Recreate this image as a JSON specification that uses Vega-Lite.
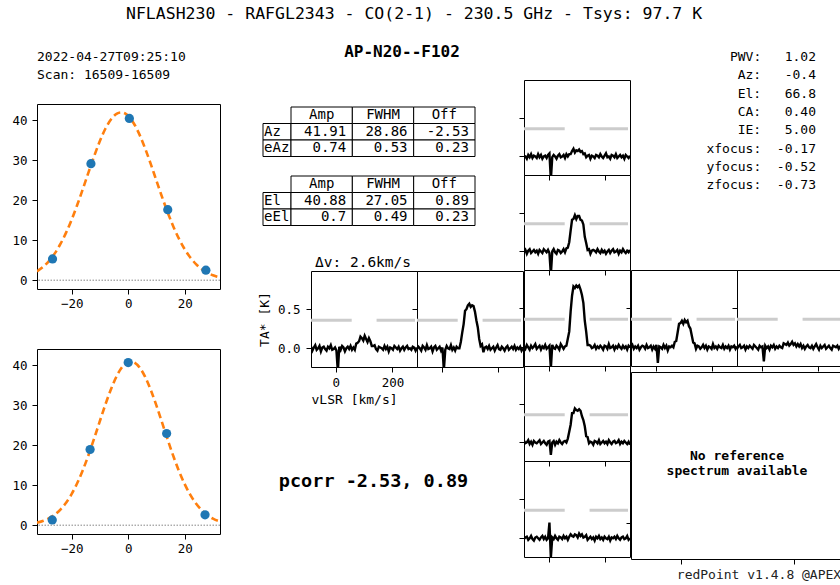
{
"$schema":"https://vega.github.io/schema/vega-lite/v6.json",
"padding":{"left":11,"top":6,"right":0,"bottom":0},
"title":{"text":"NFLASH230 - RAFGL2343 - CO(2-1) - 230.5 GHz - Tsys: 97.7 K","anchor":"start","frame":"group","dx":89,"offset":1.5,"baseline":"bottom","fontSize":16.5,"font":"DejaVu Sans Mono","fontWeight":"normal","color":"#000000"},
"datasets":{
"spec":[
{"v":-88,"azm2":0.02,"azm1":-0.01,"c0":0.01,"azp1":0,"azp2":-0.02,"elp2":0.01,"elp1":-0.01,"elm1":0.02,"elm2":-0.01},
{"v":-83,"azm2":-0.03,"azm1":0.02,"c0":-0.02,"azp1":0.03,"azp2":0.01,"elp2":0,"elp1":0.02,"elm1":-0.01,"elm2":0.01},
{"v":-78,"azm2":0.01,"azm1":0,"c0":0.03,"azp1":-0.02,"azp2":0.03,"elp2":-0.03,"elp1":-0.03,"elm1":0,"elm2":0.02},
{"v":-73,"azm2":0.04,"azm1":-0.03,"c0":0,"azp1":0.01,"azp2":-0.01,"elp2":0.02,"elp1":0.01,"elm1":0.03,"elm2":-0.02},
{"v":-68,"azm2":-0.02,"azm1":0.03,"c0":-0.03,"azp1":-0.01,"azp2":0,"elp2":-0.01,"elp1":0.03,"elm1":-0.02,"elm2":0},
{"v":-63,"azm2":0,"azm1":0.01,"c0":0.02,"azp1":0.02,"azp2":0.02,"elp2":0.03,"elp1":-0.02,"elm1":0.01,"elm2":0.03},
{"v":-58,"azm2":0.03,"azm1":-0.02,"c0":-0.01,"azp1":-0.03,"azp2":-0.03,"elp2":-0.02,"elp1":0,"elm1":-0.03,"elm2":-0.01},
{"v":-53,"azm2":-0.04,"azm1":0.04,"c0":0.01,"azp1":0,"azp2":0.01,"elp2":0.01,"elp1":0.02,"elm1":0.02,"elm2":-0.03},
{"v":-48,"azm2":0.01,"azm1":-0.01,"c0":0.04,"azp1":0.02,"azp2":-0.01,"elp2":0,"elp1":-0.01,"elm1":0,"elm2":0.01},
{"v":-43,"azm2":0.02,"azm1":0,"c0":-0.02,"azp1":0.01,"azp2":0.02,"elp2":-0.02,"elp1":0.01,"elm1":-0.01,"elm2":0.02},
{"v":-38,"azm2":-0.01,"azm1":0.02,"c0":0,"azp1":-0.02,"azp2":0,"elp2":0.03,"elp1":-0.03,"elm1":0.01,"elm2":0},
{"v":-33,"azm2":-0.03,"azm1":-0.04,"c0":0.02,"azp1":0.03,"azp2":-0.02,"elp2":-0.01,"elp1":0.02,"elm1":0.03,"elm2":-0.02},
{"v":-28,"azm2":0.02,"azm1":0.01,"c0":-0.03,"azp1":-0.01,"azp2":0.03,"elp2":0.02,"elp1":0,"elm1":-0.02,"elm2":0.01},
{"v":-23,"azm2":0,"azm1":0.03,"c0":0.01,"azp1":0,"azp2":0.01,"elp2":-0.03,"elp1":-0.02,"elm1":0,"elm2":0.03},
{"v":-18,"azm2":0.04,"azm1":-0.02,"c0":-0.01,"azp1":0.02,"azp2":-0.01,"elp2":0,"elp1":0.03,"elm1":0.02,"elm2":-0.01},
{"v":-13,"azm2":-0.02,"azm1":0,"c0":0.03,"azp1":-0.03,"azp2":-0.03,"elp2":0.01,"elp1":0.01,"elm1":-0.01,"elm2":0.02},
{"v":-8,"azm2":-0.01,"azm1":0.02,"c0":-0.02,"azp1":0.01,"azp2":0.02,"elp2":-0.02,"elp1":-0.01,"elm1":-0.03,"elm2":-0.02},
{"v":-3,"azm2":0.01,"azm1":-0.03,"c0":0,"azp1":-0.02,"azp2":0,"elp2":0.02,"elp1":0.02,"elm1":0.01,"elm2":0},
{"v":2,"azm2":-0.03,"azm1":0.01,"c0":0.02,"azp1":0.03,"azp2":0.01,"elp2":0.04,"elp1":-0.02,"elm1":0.02,"elm2":0.2},
{"v":7,"azm2":-0.3,"azm1":-0.28,"c0":-0.27,"azp1":-0.2,"azp2":-0.18,"elp2":-0.3,"elp1":-0.3,"elm1":-0.16,"elm2":-0.25},
{"v":12,"azm2":0.02,"azm1":-0.02,"c0":0.03,"azp1":0.01,"azp2":0.02,"elp2":-0.01,"elp1":0,"elm1":0,"elm2":0.01},
{"v":17,"azm2":-0.02,"azm1":0.03,"c0":-0.01,"azp1":0,"azp2":-0.01,"elp2":0.02,"elp1":0.03,"elm1":0.02,"elm2":-0.01},
{"v":22,"azm2":0.03,"azm1":0,"c0":-0.02,"azp1":-0.02,"azp2":0.01,"elp2":0,"elp1":-0.01,"elm1":-0.03,"elm2":0.03},
{"v":27,"azm2":0.01,"azm1":-0.01,"c0":0.02,"azp1":0.03,"azp2":-0.03,"elp2":-0.03,"elp1":-0.03,"elm1":0.01,"elm2":0},
{"v":32,"azm2":-0.04,"azm1":0.04,"c0":0,"azp1":-0.01,"azp2":0.02,"elp2":0.01,"elp1":0.02,"elm1":-0.01,"elm2":-0.02},
{"v":37,"azm2":0,"azm1":-0.02,"c0":-0.03,"azp1":0.02,"azp2":0,"elp2":0.03,"elp1":0.01,"elm1":0.03,"elm2":0.02},
{"v":42,"azm2":0.02,"azm1":0.01,"c0":0.04,"azp1":-0.04,"azp2":0.03,"elp2":-0.01,"elp1":-0.02,"elm1":0,"elm2":0.01},
{"v":47,"azm2":-0.01,"azm1":-0.03,"c0":0.01,"azp1":0.01,"azp2":-0.02,"elp2":0,"elp1":0,"elm1":-0.02,"elm2":-0.01},
{"v":52,"azm2":0.03,"azm1":0.02,"c0":-0.02,"azp1":0,"azp2":0.01,"elp2":0.02,"elp1":0.03,"elm1":0.01,"elm2":0.03},
{"v":57,"azm2":-0.02,"azm1":0,"c0":0.01,"azp1":0.02,"azp2":-0.01,"elp2":-0.02,"elp1":-0.01,"elm1":0.02,"elm2":0},
{"v":62,"azm2":0.01,"azm1":0,"c0":0.02,"azp1":0,"azp2":0.02,"elp2":0.03,"elp1":0.04,"elm1":0,"elm2":0.02},
{"v":67,"azm2":-0.02,"azm1":0.08,"c0":0.11,"azp1":0.07,"azp2":0,"elp2":0,"elp1":0.05,"elm1":0.05,"elm2":-0.02},
{"v":72,"azm2":0.06,"azm1":0.2,"c0":0.2,"azp1":0.08,"azp2":-0.01,"elp2":0.03,"elp1":0.12,"elm1":0.14,"elm2":0.02},
{"v":77,"azm2":0.07,"azm1":0.31,"c0":0.46,"azp1":0.19,"azp2":0.05,"elp2":0.03,"elp1":0.27,"elm1":0.23,"elm2":0.05},
{"v":82,"azm2":0.09,"azm1":0.48,"c0":0.66,"azp1":0.3,"azp2":0.04,"elp2":0.07,"elp1":0.41,"elm1":0.38,"elm2":0.03},
{"v":87,"azm2":0.15,"azm1":0.5,"c0":0.78,"azp1":0.31,"azp2":0.03,"elp2":0.1,"elp1":0.42,"elm1":0.38,"elm2":0.02},
{"v":92,"azm2":0.13,"azm1":0.55,"c0":0.76,"azp1":0.34,"azp2":0.06,"elp2":0.05,"elp1":0.47,"elm1":0.44,"elm2":0.05},
{"v":97,"azm2":0.1,"azm1":0.57,"c0":0.79,"azp1":0.3,"azp2":0.02,"elp2":0.08,"elp1":0.42,"elm1":0.42,"elm2":0.04},
{"v":102,"azm2":0.16,"azm1":0.53,"c0":0.77,"azp1":0.35,"azp2":0.04,"elp2":0.07,"elp1":0.46,"elm1":0.41,"elm2":0.01},
{"v":107,"azm2":0.12,"azm1":0.55,"c0":0.79,"azp1":0.32,"azp2":0.07,"elp2":0.09,"elp1":0.46,"elm1":0.43,"elm2":0.06},
{"v":112,"azm2":0.08,"azm1":0.54,"c0":0.74,"azp1":0.34,"azp2":0.03,"elp2":0.06,"elp1":0.41,"elm1":0.41,"elm2":0.03},
{"v":117,"azm2":0.13,"azm1":0.47,"c0":0.67,"azp1":0.27,"azp2":0.05,"elp2":0.07,"elp1":0.4,"elm1":0.34,"elm2":0.05},
{"v":122,"azm2":0.09,"azm1":0.36,"c0":0.57,"azp1":0.24,"azp2":0.01,"elp2":0.03,"elp1":0.35,"elm1":0.29,"elm2":0.01},
{"v":127,"azm2":0.03,"azm1":0.27,"c0":0.34,"azp1":0.15,"azp2":0.04,"elp2":0.04,"elp1":0.19,"elm1":0.21,"elm2":0.02},
{"v":132,"azm2":0.03,"azm1":0.12,"c0":0.2,"azp1":0.06,"azp2":0.01,"elp2":-0.01,"elp1":0.11,"elm1":0.08,"elm2":0.04},
{"v":137,"azm2":0.04,"azm1":0.03,"c0":0.03,"azp1":0.05,"azp2":0.04,"elp2":0.01,"elp1":0.02,"elm1":0.07,"elm2":-0.02},
{"v":142,"azm2":-0.01,"azm1":0.05,"c0":0.03,"azp1":-0.02,"azp2":-0.01,"elp2":0.02,"elp1":0.03,"elm1":-0.01,"elm2":0},
{"v":147,"azm2":-0.03,"azm1":-0.05,"c0":0.02,"azp1":0.02,"azp2":0.02,"elp2":-0.03,"elp1":-0.03,"elm1":0.01,"elm2":0.02},
{"v":152,"azm2":0.02,"azm1":0.01,"c0":-0.01,"azp1":0.01,"azp2":-0.02,"elp2":0.01,"elp1":0.01,"elm1":0,"elm2":-0.01},
{"v":157,"azm2":0.01,"azm1":0.02,"c0":0,"azp1":-0.02,"azp2":0.01,"elp2":0,"elp1":0.02,"elm1":-0.03,"elm2":0.01},
{"v":162,"azm2":0,"azm1":-0.01,"c0":0.03,"azp1":0,"azp2":0.03,"elp2":-0.02,"elp1":0.01,"elm1":0.02,"elm2":-0.03},
{"v":167,"azm2":-0.02,"azm1":0.03,"c0":-0.02,"azp1":0.03,"azp2":0,"elp2":0.02,"elp1":-0.01,"elm1":0.01,"elm2":0.02},
{"v":172,"azm2":0.03,"azm1":-0.02,"c0":0.01,"azp1":-0.01,"azp2":-0.01,"elp2":0.01,"elp1":0.03,"elm1":-0.01,"elm2":0},
{"v":177,"azm2":-0.01,"azm1":0,"c0":-0.01,"azp1":0.02,"azp2":0.02,"elp2":-0.01,"elp1":0,"elm1":0.03,"elm2":0.03},
{"v":182,"azm2":0.02,"azm1":0.02,"c0":0.02,"azp1":-0.03,"azp2":-0.02,"elp2":0.03,"elp1":-0.02,"elm1":-0.02,"elm2":-0.01},
{"v":187,"azm2":-0.04,"azm1":-0.03,"c0":0,"azp1":0.01,"azp2":0.01,"elp2":0,"elp1":0.02,"elm1":0,"elm2":0.01},
{"v":192,"azm2":0.01,"azm1":0.01,"c0":-0.03,"azp1":0,"azp2":0.04,"elp2":-0.02,"elp1":-0.01,"elm1":0.02,"elm2":-0.02},
{"v":197,"azm2":0,"azm1":0.04,"c0":0.02,"azp1":-0.02,"azp2":0,"elp2":0.01,"elp1":0.01,"elm1":-0.01,"elm2":0.02},
{"v":202,"azm2":-0.02,"azm1":-0.01,"c0":0.01,"azp1":0.04,"azp2":-0.03,"elp2":0.04,"elp1":-0.03,"elm1":0.01,"elm2":0},
{"v":207,"azm2":0.03,"azm1":-0.02,"c0":-0.02,"azp1":-0.01,"azp2":0.02,"elp2":-0.01,"elp1":0,"elm1":-0.02,"elm2":-0.01},
{"v":212,"azm2":0.01,"azm1":0.02,"c0":0.04,"azp1":0.01,"azp2":-0.01,"elp2":0,"elp1":0.02,"elm1":0.03,"elm2":0.02},
{"v":217,"azm2":-0.01,"azm1":0,"c0":-0.01,"azp1":-0.02,"azp2":0.01,"elp2":-0.03,"elp1":-0.02,"elm1":0,"elm2":-0.03},
{"v":222,"azm2":0.02,"azm1":-0.03,"c0":0,"azp1":0.02,"azp2":0.03,"elp2":0.02,"elp1":0.01,"elm1":-0.02,"elm2":0.01},
{"v":227,"azm2":-0.03,"azm1":0.01,"c0":0.02,"azp1":0,"azp2":-0.02,"elp2":0.01,"elp1":0.03,"elm1":0.01,"elm2":0},
{"v":232,"azm2":0,"azm1":0.03,"c0":-0.03,"azp1":-0.01,"azp2":0,"elp2":-0.01,"elp1":-0.01,"elm1":0.02,"elm2":0.02},
{"v":237,"azm2":0.02,"azm1":-0.02,"c0":0.01,"azp1":0.03,"azp2":0.02,"elp2":0.03,"elp1":0,"elm1":-0.01,"elm2":-0.01},
{"v":242,"azm2":-0.02,"azm1":0,"c0":-0.01,"azp1":-0.02,"azp2":-0.01,"elp2":-0.02,"elp1":0.02,"elm1":0,"elm2":0.03},
{"v":247,"azm2":0.01,"azm1":0.02,"c0":0.03,"azp1":0.01,"azp2":-0.03,"elp2":0,"elp1":-0.03,"elm1":0.03,"elm2":0},
{"v":252,"azm2":0.03,"azm1":-0.01,"c0":0,"azp1":-0.01,"azp2":0.02,"elp2":0.02,"elp1":0.01,"elm1":-0.02,"elm2":-0.02},
{"v":257,"azm2":-0.01,"azm1":0.03,"c0":-0.02,"azp1":0.02,"azp2":0.01,"elp2":-0.01,"elp1":-0.01,"elm1":0.01,"elm2":0.01},
{"v":262,"azm2":0,"azm1":-0.02,"c0":0.02,"azp1":-0.03,"azp2":0,"elp2":0.01,"elp1":0.03,"elm1":-0.01,"elm2":0.02},
{"v":267,"azm2":-0.02,"azm1":0.01,"c0":-0.01,"azp1":0.01,"azp2":0.02,"elp2":-0.03,"elp1":0,"elm1":0.02,"elm2":-0.01},
{"v":272,"azm2":0.02,"azm1":-0.01,"c0":0.01,"azp1":0,"azp2":-0.02,"elp2":0.02,"elp1":-0.02,"elm1":0,"elm2":0},
{"v":277,"azm2":0.01,"azm1":0.02,"c0":-0.03,"azp1":0.02,"azp2":0.01,"elp2":0,"elp1":0.01,"elm1":-0.02,"elm2":0.03},
{"v":282,"azm2":-0.03,"azm1":-0.03,"c0":0.02,"azp1":-0.02,"azp2":0.03,"elp2":-0.02,"elp1":-0.01,"elm1":0.01,"elm2":-0.02},
{"v":287,"azm2":0.01,"azm1":0,"c0":0,"azp1":0.01,"azp2":-0.01,"elp2":0.01,"elp1":0.02,"elm1":-0.03,"elm2":0}
],
"refline":[{"v1":-88,"v2":56,"t":0.36},{"v1":144,"v2":280,"t":0.36}],
"fit_az":[{"off":-32.3,"amp":2.19},{"off":-30,"amp":3.4},{"off":-28,"amp":4.84},{"off":-26,"amp":6.7},{"off":-24,"amp":9.04},{"off":-22,"amp":11.87},{"off":-20,"amp":15.17},{"off":-18,"amp":18.9},{"off":-16,"amp":22.91},{"off":-14,"amp":27.05},{"off":-12,"amp":31.1},{"off":-10,"amp":34.81},{"off":-8,"amp":37.94},{"off":-6,"amp":40.26},{"off":-4,"amp":41.61},{"off":-2.5,"amp":41.91},{"off":-1,"amp":41.58},{"off":0,"amp":41.03},{"off":2,"amp":39.14},{"off":4,"amp":36.36},{"off":6,"amp":32.89},{"off":8,"amp":28.98},{"off":10,"amp":24.85},{"off":12,"amp":20.75},{"off":14,"amp":16.88},{"off":16,"amp":13.36},{"off":18,"amp":10.3},{"off":20,"amp":7.74},{"off":22,"amp":5.66},{"off":24,"amp":4.03},{"off":26,"amp":2.79},{"off":28,"amp":1.88},{"off":30,"amp":1.24},{"off":32,"amp":0.79},{"off":32.5,"amp":0.71}],
"fit_el":[{"off":-32.3,"amp":0.63},{"off":-30,"amp":1.1},{"off":-28,"amp":1.73},{"off":-26,"amp":2.64},{"off":-24,"amp":3.91},{"off":-22,"amp":5.61},{"off":-20,"amp":7.82},{"off":-18,"amp":10.58},{"off":-16,"amp":13.87},{"off":-14,"amp":17.65},{"off":-12,"amp":21.78},{"off":-10,"amp":26.08},{"off":-8,"amp":30.3},{"off":-6,"amp":34.15},{"off":-4,"amp":37.34},{"off":-2,"amp":39.61},{"off":0,"amp":40.76},{"off":1,"amp":40.88},{"off":2,"amp":40.69},{"off":4,"amp":39.41},{"off":6,"amp":37.03},{"off":8,"amp":33.75},{"off":10,"amp":29.85},{"off":12,"amp":25.61},{"off":14,"amp":21.31},{"off":16,"amp":17.21},{"off":18,"amp":13.48},{"off":20,"amp":10.25},{"off":22,"amp":7.55},{"off":24,"amp":5.4},{"off":26,"amp":3.75},{"off":28,"amp":2.52},{"off":30,"amp":1.65},{"off":32,"amp":1.04},{"off":32.5,"amp":0.93}],
"pts_az":[{"off":-26.8,"amp":5.3},{"off":-13.2,"amp":29.1},{"off":0.4,"amp":40.4},{"off":14.0,"amp":17.6},{"off":27.5,"amp":2.5}],
"pts_el":[{"off":-26.9,"amp":1.3},{"off":-13.5,"amp":18.9},{"off":0.0,"amp":40.6},{"off":13.6,"amp":22.9},{"off":27.2,"amp":2.6}],
"tbl_head":[{"row":"hdr","col":"Amp"},{"row":"hdr","col":"FWHM"},{"row":"hdr","col":"Off"}],
"tbl_az":[{"row":"Az","col":"Amp","txt":"41.91"},{"row":"Az","col":"FWHM","txt":"28.86"},{"row":"Az","col":"Off","txt":"-2.53"},{"row":"eAz","col":"Amp","txt":"0.74"},{"row":"eAz","col":"FWHM","txt":"0.53"},{"row":"eAz","col":"Off","txt":"0.23"}],
"tbl_el":[{"row":"El","col":"Amp","txt":"40.88"},{"row":"El","col":"FWHM","txt":"27.05"},{"row":"El","col":"Off","txt":"0.89"},{"row":"eEl","col":"Amp","txt":"0.7"},{"row":"eEl","col":"FWHM","txt":"0.49"},{"row":"eEl","col":"Off","txt":"0.23"}],
"lab_az":[{"row":"Az","c":"lab"},{"row":"eAz","c":"lab"}],
"lab_el":[{"row":"El","c":"lab"},{"row":"eEl","c":"lab"}],
"pointing":[{"line":"PWV:\u00a0\u00a0\u00a01.02"},{"line":"Az:\u00a0\u00a0\u00a0-0.4"},{"line":"El:\u00a0\u00a0\u00a066.8"},{"line":"CA:\u00a0\u00a0\u00a00.40"},{"line":"IE:\u00a0\u00a0\u00a05.00"},{"line":"xfocus:\u00a0\u00a0-0.17"},{"line":"yfocus:\u00a0\u00a0-0.52"},{"line":"zfocus:\u00a0\u00a0-0.73"}]
},
"hconcat":[
{"vconcat":[
 {"width":183,"height":8,"view":{"stroke":null},"data":{"values":[]},"mark":"point"},
 {"width":183,"height":36,"view":{"stroke":null},"data":{"values":[{"info":"2022-04-27T09:25:10"},{"info":"Scan: 16509-16509"}]},"mark":{"type":"text","fontSize":13,"align":"left","baseline":"middle"},"encoding":{"x":{"datum":0,"type":"quantitative","scale":{"domain":[0,1],"nice":false},"axis":null},"y":{"field":"info","type":"nominal","sort":null,"bandPosition":0.5,"scale":{"type":"band","paddingInner":0,"paddingOuter":0},"axis":null},"text":{"field":"info"}}},
 {"width":183,"height":20,"view":{"stroke":null},"data":{"values":[]},"mark":"point"},
 {"width":183,"height":185,
  "layer":[
   {"data":{"values":[{}]},"mark":{"type":"rule","color":"#666666","strokeWidth":0.8,"strokeDash":[1.5,1.5]},"encoding":{"y":{"datum":0,"type":"quantitative","scale":{"domain":[-2.2,44],"nice":false,"zero":false},"axis":{"values":[0,10,20,30,40],"title":null}}}},
   {"data":{"name":"fit_az"},"mark":{"type":"line","color":"#ff7f0e","strokeWidth":2.6,"strokeDash":[7,4],"interpolate":"monotone","clip":true},"encoding":{"x":{"field":"off","type":"quantitative","scale":{"domain":[-32.3,32.5],"nice":false,"zero":false},"axis":{"values":[-20,0,20],"title":null,"labelPadding":3}},"y":{"field":"amp","type":"quantitative","axis":{"values":[0,10,20,30,40],"title":null}}}},
   {"data":{"name":"pts_az"},"mark":{"type":"circle","size":85,"color":"#1f77b4","opacity":1},"encoding":{"x":{"field":"off","type":"quantitative"},"y":{"field":"amp","type":"quantitative"}}}
  ]},
 {"width":183,"height":60,"view":{"stroke":null},"data":{"values":[]},"mark":"point"},
 {"width":183,"height":185,
  "layer":[
   {"data":{"values":[{}]},"mark":{"type":"rule","color":"#666666","strokeWidth":0.8,"strokeDash":[1.5,1.5]},"encoding":{"y":{"datum":0,"type":"quantitative","scale":{"domain":[-2.2,44],"nice":false,"zero":false},"axis":{"values":[0,10,20,30,40],"title":null}}}},
   {"data":{"name":"fit_el"},"mark":{"type":"line","color":"#ff7f0e","strokeWidth":2.6,"strokeDash":[7,4],"interpolate":"monotone","clip":true},"encoding":{"x":{"field":"off","type":"quantitative","scale":{"domain":[-32.3,32.5],"nice":false,"zero":false},"axis":{"values":[-20,0,20],"title":null,"labelPadding":3}},"y":{"field":"amp","type":"quantitative","axis":{"values":[0,10,20,30,40],"title":null}}}},
   {"data":{"name":"pts_el"},"mark":{"type":"circle","size":85,"color":"#1f77b4","opacity":1},"encoding":{"x":{"field":"off","type":"quantitative"},"y":{"field":"amp","type":"quantitative"}}}
  ]}
],"spacing":0,"bounds":"flush"},
{"hconcat":[
 {"vconcat":[
  {"hconcat":[
   {"width":20,"height":24,"view":{"stroke":null},"data":{"values":[]},"mark":"point"},
   {"width":238,"height":24,"view":{"stroke":null},"data":{"values":[{"label":"AP-N20--F102"}]},"mark":{"type":"text","fontSize":16,"fontWeight":"bold","align":"center","baseline":"middle"},"encoding":{"text":{"field":"label"}}}
  ],"spacing":0,"bounds":"flush"},
  {"width":20,"height":42,"view":{"stroke":null},"data":{"values":[]},"mark":"point"},
  {"hconcat":[
   {"width":28,"height":49.5,"view":{"stroke":null},"data":{"name":"lab_az"},
    "layer":[
     {"mark":{"type":"rect","fill":"#ffffff","stroke":"#000000","strokeWidth":1},"encoding":{"x":{"field":"c","type":"nominal","scale":{"type":"band","paddingInner":0,"paddingOuter":0},"axis":null},"y":{"field":"row","type":"nominal","scale":{"type":"band","domain":["hdr","Az","eAz"],"paddingInner":0,"paddingOuter":0},"axis":null}}},
     {"mark":{"type":"text","fontSize":14,"align":"left","baseline":"middle"},"encoding":{"x":{"field":"c","type":"nominal","bandPosition":0.04,"axis":null},"y":{"field":"row","type":"nominal","bandPosition":0.5,"axis":null},"text":{"field":"row"}}}
    ]},
   {"width":184,"height":49.5,"view":{"stroke":null},
    "layer":[
     {"data":{"name":"tbl_head"},"mark":{"type":"rect","fill":"#ffffff","stroke":"#000000","strokeWidth":1},"encoding":{"x":{"field":"col","type":"nominal","scale":{"type":"band","domain":["Amp","FWHM","Off"],"paddingInner":0,"paddingOuter":0},"axis":null},"y":{"field":"row","type":"nominal","scale":{"type":"band","domain":["hdr","Az","eAz"],"paddingInner":0,"paddingOuter":0},"axis":null}}},
     {"data":{"name":"tbl_az"},"mark":{"type":"rect","fill":"#ffffff","stroke":"#000000","strokeWidth":1},"encoding":{"x":{"field":"col","type":"nominal","axis":null},"y":{"field":"row","type":"nominal","axis":null}}},
     {"data":{"name":"tbl_head"},"mark":{"type":"text","fontSize":14,"align":"center","baseline":"middle"},"encoding":{"x":{"field":"col","type":"nominal","bandPosition":0.5,"axis":null},"y":{"field":"row","type":"nominal","bandPosition":0.5,"axis":null},"text":{"field":"col"}}},
     {"data":{"name":"tbl_az"},"mark":{"type":"text","fontSize":14,"align":"right","baseline":"middle"},"encoding":{"x":{"field":"col","type":"nominal","bandPosition":0.9,"axis":null},"y":{"field":"row","type":"nominal","bandPosition":0.5,"axis":null},"text":{"field":"txt"}}}
    ]}
  ],"spacing":0,"bounds":"flush"},
  {"width":20,"height":18,"view":{"stroke":null},"data":{"values":[]},"mark":"point"},
  {"hconcat":[
   {"width":28,"height":49.5,"view":{"stroke":null},"data":{"name":"lab_el"},
    "layer":[
     {"mark":{"type":"rect","fill":"#ffffff","stroke":"#000000","strokeWidth":1},"encoding":{"x":{"field":"c","type":"nominal","scale":{"type":"band","paddingInner":0,"paddingOuter":0},"axis":null},"y":{"field":"row","type":"nominal","scale":{"type":"band","domain":["hdr","El","eEl"],"paddingInner":0,"paddingOuter":0},"axis":null}}},
     {"mark":{"type":"text","fontSize":14,"align":"left","baseline":"middle"},"encoding":{"x":{"field":"c","type":"nominal","bandPosition":0.04,"axis":null},"y":{"field":"row","type":"nominal","bandPosition":0.5,"axis":null},"text":{"field":"row"}}}
    ]},
   {"width":184,"height":49.5,"view":{"stroke":null},
    "layer":[
     {"data":{"name":"tbl_head"},"mark":{"type":"rect","fill":"#ffffff","stroke":"#000000","strokeWidth":1},"encoding":{"x":{"field":"col","type":"nominal","scale":{"type":"band","domain":["Amp","FWHM","Off"],"paddingInner":0,"paddingOuter":0},"axis":null},"y":{"field":"row","type":"nominal","scale":{"type":"band","domain":["hdr","El","eEl"],"paddingInner":0,"paddingOuter":0},"axis":null}}},
     {"data":{"name":"tbl_el"},"mark":{"type":"rect","fill":"#ffffff","stroke":"#000000","strokeWidth":1},"encoding":{"x":{"field":"col","type":"nominal","axis":null},"y":{"field":"row","type":"nominal","axis":null}}},
     {"data":{"name":"tbl_head"},"mark":{"type":"text","fontSize":14,"align":"center","baseline":"middle"},"encoding":{"x":{"field":"col","type":"nominal","bandPosition":0.5,"axis":null},"y":{"field":"row","type":"nominal","bandPosition":0.5,"axis":null},"text":{"field":"col"}}},
     {"data":{"name":"tbl_el"},"mark":{"type":"text","fontSize":14,"align":"right","baseline":"middle"},"encoding":{"x":{"field":"col","type":"nominal","bandPosition":0.9,"axis":null},"y":{"field":"row","type":"nominal","bandPosition":0.5,"axis":null},"text":{"field":"txt"}}}
    ]}
  ],"spacing":0,"bounds":"flush"},
  {"width":20,"height":28,"view":{"stroke":null},"data":{"values":[]},"mark":"point"},
  {"hconcat":[
   {"width":52,"height":15,"view":{"stroke":null},"data":{"values":[]},"mark":"point"},
   {"width":160,"height":15,"view":{"stroke":null},"data":{"values":[{"label":"Δv: 2.6km/s"}]},"mark":{"type":"text","fontSize":14.5,"align":"left","baseline":"middle"},"encoding":{"x":{"datum":0,"type":"quantitative","scale":{"domain":[0,1],"nice":false},"axis":null},"text":{"field":"label"}}}
  ],"spacing":0,"bounds":"flush"},
  {"hconcat":[
   {"width":48,"height":96,"view":{"stroke":null},"data":{"values":[]},"mark":"point"},
   {"width":106,"height":96,
    "layer":[
     {"data":{"name":"refline"},"mark":{"type":"rule","color":"#cccccc","strokeWidth":3},"encoding":{"x":{"field":"v1","type":"quantitative","scale":{"domain":[-88,287],"nice":false,"zero":false},"axis":{"values":[0,200],"title":"vLSR [km/s]","titleAnchor":"start","labelPadding":4,"titlePadding":5}},"x2":{"field":"v2"},"y":{"field":"t","type":"quantitative","scale":{"domain":[-0.24,0.99],"nice":false,"zero":false},"axis":{"values":[0,0.5],"format":".1f","title":"TA* [K]","labelPadding":6,"titlePadding":6}}}},
     {"data":{"name":"spec"},"mark":{"type":"line","color":"#000000","strokeWidth":2.4,"clip":true},"encoding":{"x":{"field":"v","type":"quantitative","axis":{"values":[0,200],"title":"vLSR [km/s]","titleAnchor":"start","labelPadding":4,"titlePadding":5}},"y":{"field":"azm2","type":"quantitative","axis":{"values":[0,0.5],"format":".1f","title":"TA* [K]","labelPadding":6,"titlePadding":6}}}}
    ]},
   {"width":106,"height":96,
    "layer":[
     {"data":{"name":"refline"},"mark":{"type":"rule","color":"#cccccc","strokeWidth":3},"encoding":{"x":{"field":"v1","type":"quantitative","scale":{"domain":[-88,287],"nice":false,"zero":false},"axis":{"values":[0,200],"labels":false,"title":null}},"x2":{"field":"v2"},"y":{"field":"t","type":"quantitative","scale":{"domain":[-0.24,0.99],"nice":false,"zero":false},"axis":{"values":[0,0.5],"labels":false,"title":null}}}},
     {"data":{"name":"spec"},"mark":{"type":"line","color":"#000000","strokeWidth":2.4,"clip":true},"encoding":{"x":{"field":"v","type":"quantitative","axis":{"values":[0,200],"labels":false,"title":null}},"y":{"field":"azm1","type":"quantitative","axis":{"values":[0,0.5],"labels":false,"title":null}}}}
    ]}
  ],"spacing":0,"bounds":"flush"},
  {"width":221,"height":148,"view":{"stroke":null},"data":{"values":[{"label":"pcorr -2.53, 0.89"}]},"mark":{"type":"text","fontSize":18.5,"fontWeight":"bold","align":"center","baseline":"middle"},"encoding":{"text":{"field":"label"}}}
 ],"spacing":0},
 {"vconcat":[
  {"width":106,"height":40,"view":{"stroke":null},"data":{"values":[]},"mark":"point"},
  {"width":106,"height":95,
   "layer":[
    {"data":{"name":"refline"},"mark":{"type":"rule","color":"#cccccc","strokeWidth":3},"encoding":{"x":{"field":"v1","type":"quantitative","scale":{"domain":[-88,287],"nice":false,"zero":false},"axis":{"values":[0,200],"labels":false,"title":null}},"x2":{"field":"v2"},"y":{"field":"t","type":"quantitative","scale":{"domain":[-0.24,0.99],"nice":false,"zero":false},"axis":{"values":[0,0.5],"labels":false,"title":null}}}},
    {"data":{"name":"spec"},"mark":{"type":"line","color":"#000000","strokeWidth":2.4,"clip":true},"encoding":{"x":{"field":"v","type":"quantitative","axis":{"values":[0,200],"labels":false,"title":null}},"y":{"field":"elp2","type":"quantitative","axis":{"values":[0,0.5],"labels":false,"title":null}}}}
   ]},
  {"width":106,"height":95,
   "layer":[
    {"data":{"name":"refline"},"mark":{"type":"rule","color":"#cccccc","strokeWidth":3},"encoding":{"x":{"field":"v1","type":"quantitative","scale":{"domain":[-88,287],"nice":false,"zero":false},"axis":{"values":[0,200],"labels":false,"title":null}},"x2":{"field":"v2"},"y":{"field":"t","type":"quantitative","scale":{"domain":[-0.24,0.99],"nice":false,"zero":false},"axis":{"values":[0,0.5],"labels":false,"title":null}}}},
    {"data":{"name":"spec"},"mark":{"type":"line","color":"#000000","strokeWidth":2.4,"clip":true},"encoding":{"x":{"field":"v","type":"quantitative","axis":{"values":[0,200],"labels":false,"title":null}},"y":{"field":"elp1","type":"quantitative","axis":{"values":[0,0.5],"labels":false,"title":null}}}}
   ]},
  {"width":106,"height":96,
   "layer":[
    {"data":{"name":"refline"},"mark":{"type":"rule","color":"#cccccc","strokeWidth":3},"encoding":{"x":{"field":"v1","type":"quantitative","scale":{"domain":[-88,287],"nice":false,"zero":false},"axis":{"values":[0,200],"labels":false,"title":null}},"x2":{"field":"v2"},"y":{"field":"t","type":"quantitative","scale":{"domain":[-0.24,0.99],"nice":false,"zero":false},"axis":{"values":[0,0.5],"labels":false,"title":null}}}},
    {"data":{"name":"spec"},"mark":{"type":"line","color":"#000000","strokeWidth":2.4,"clip":true},"encoding":{"x":{"field":"v","type":"quantitative","axis":{"values":[0,200],"labels":false,"title":null}},"y":{"field":"c0","type":"quantitative","axis":{"values":[0,0.5],"labels":false,"title":null}}}}
   ]},
  {"width":106,"height":95,
   "layer":[
    {"data":{"name":"refline"},"mark":{"type":"rule","color":"#cccccc","strokeWidth":3},"encoding":{"x":{"field":"v1","type":"quantitative","scale":{"domain":[-88,287],"nice":false,"zero":false},"axis":{"values":[0,200],"labels":false,"title":null}},"x2":{"field":"v2"},"y":{"field":"t","type":"quantitative","scale":{"domain":[-0.24,0.99],"nice":false,"zero":false},"axis":{"values":[0,0.5],"labels":false,"title":null}}}},
    {"data":{"name":"spec"},"mark":{"type":"line","color":"#000000","strokeWidth":2.4,"clip":true},"encoding":{"x":{"field":"v","type":"quantitative","axis":{"values":[0,200],"labels":false,"title":null}},"y":{"field":"elm1","type":"quantitative","axis":{"values":[0,0.5],"labels":false,"title":null}}}}
   ]},
  {"width":106,"height":96,
   "layer":[
    {"data":{"name":"refline"},"mark":{"type":"rule","color":"#cccccc","strokeWidth":3},"encoding":{"x":{"field":"v1","type":"quantitative","scale":{"domain":[-88,287],"nice":false,"zero":false},"axis":{"values":[0,200],"labels":false,"title":null}},"x2":{"field":"v2"},"y":{"field":"t","type":"quantitative","scale":{"domain":[-0.24,0.99],"nice":false,"zero":false},"axis":{"values":[0,0.5],"labels":false,"title":null}}}},
    {"data":{"name":"spec"},"mark":{"type":"line","color":"#000000","strokeWidth":2.4,"clip":true},"encoding":{"x":{"field":"v","type":"quantitative","axis":{"values":[0,200],"labels":false,"title":null}},"y":{"field":"elm2","type":"quantitative","axis":{"values":[0,0.5],"labels":false,"title":null}}}}
   ]}
 ],"spacing":0,"bounds":"flush"},
 {"vconcat":[
  {"vconcat":[
   {"width":185,"height":7.5,"view":{"stroke":null},"data":{"values":[]},"mark":"point"},
   {"width":185,"height":146.4,"view":{"stroke":null},"data":{"name":"pointing"},"mark":{"type":"text","fontSize":13,"align":"right","baseline":"middle"},"encoding":{"x":{"value":"width"},"y":{"field":"line","type":"nominal","sort":null,"bandPosition":0.5,"scale":{"type":"band","paddingInner":0,"paddingOuter":0},"axis":null},"text":{"field":"line"}}},
   {"width":185,"height":74.1,"view":{"stroke":null},"data":{"values":[]},"mark":"point"}
  ],"spacing":0,"bounds":"flush"},
  {"hconcat":[
   {"width":106,"height":96,
    "layer":[
     {"data":{"name":"refline"},"mark":{"type":"rule","color":"#cccccc","strokeWidth":3},"encoding":{"x":{"field":"v1","type":"quantitative","scale":{"domain":[-88,287],"nice":false,"zero":false},"axis":{"values":[0,200],"labels":false,"title":null}},"x2":{"field":"v2"},"y":{"field":"t","type":"quantitative","scale":{"domain":[-0.24,0.99],"nice":false,"zero":false},"axis":{"values":[0,0.5],"labels":false,"title":null}}}},
     {"data":{"name":"spec"},"mark":{"type":"line","color":"#000000","strokeWidth":2.4,"clip":true},"encoding":{"x":{"field":"v","type":"quantitative","axis":{"values":[0,200],"labels":false,"title":null}},"y":{"field":"azp1","type":"quantitative","axis":{"values":[0,0.5],"labels":false,"title":null}}}}
    ]},
   {"width":106,"height":96,
    "layer":[
     {"data":{"name":"refline"},"mark":{"type":"rule","color":"#cccccc","strokeWidth":3},"encoding":{"x":{"field":"v1","type":"quantitative","scale":{"domain":[-88,287],"nice":false,"zero":false},"axis":{"values":[0,200],"labels":false,"title":null}},"x2":{"field":"v2"},"y":{"field":"t","type":"quantitative","scale":{"domain":[-0.24,0.99],"nice":false,"zero":false},"axis":{"values":[0,0.5],"labels":false,"title":null}}}},
     {"data":{"name":"spec"},"mark":{"type":"line","color":"#000000","strokeWidth":2.4,"clip":true},"encoding":{"x":{"field":"v","type":"quantitative","axis":{"values":[0,200],"labels":false,"title":null}},"y":{"field":"azp2","type":"quantitative","axis":{"values":[0,0.5],"labels":false,"title":null}}}}
    ]}
  ],"spacing":0,"bounds":"flush"},
  {"width":212,"height":187,"data":{"values":[{"msg":"No reference\nspectrum available"}]},"mark":{"type":"text","fontSize":13,"fontWeight":"bold","lineBreak":"\n","lineHeight":15.5,"align":"center","baseline":"middle"},"encoding":{"x":{"datum":99.5,"type":"quantitative","scale":{"domain":[-88,287],"nice":false,"zero":false},"axis":{"values":[0,200],"labels":false,"title":null}},"y":{"datum":0.44,"type":"quantitative","scale":{"domain":[-0.24,0.99],"nice":false,"zero":false},"axis":{"values":[0],"labels":false,"title":null}},"text":{"field":"msg"}}},
  {"width":256,"height":20,"view":{"stroke":null},"data":{"values":[{"label":"redPoint v1.4.8 @APEX"}]},"mark":{"type":"text","fontSize":13,"align":"center","baseline":"middle","color":"#222222"},"encoding":{"text":{"field":"label"}}}
 ],"spacing":-5}
],"spacing":-7}
],
"spacing":36,
"config":{
 "font":"DejaVu Sans Mono",
 "view":{"stroke":"#000000","strokeWidth":1},
 "axis":{"grid":false,"domain":false,"ticks":true,"tickSize":5,"tickColor":"#000000","tickWidth":1,"labelFont":"DejaVu Sans Mono","labelFontSize":12.5,"labelColor":"#000000","labelPadding":5,"labelFlush":false,"labelOverlap":false,"titleFont":"DejaVu Sans Mono","titleFontSize":13,"titleFontWeight":"normal","titleColor":"#000000","titlePadding":5},
 "title":{"font":"DejaVu Sans Mono","fontWeight":"normal","color":"#000000"},
 "text":{"font":"DejaVu Sans Mono","color":"#000000"}
}
}
